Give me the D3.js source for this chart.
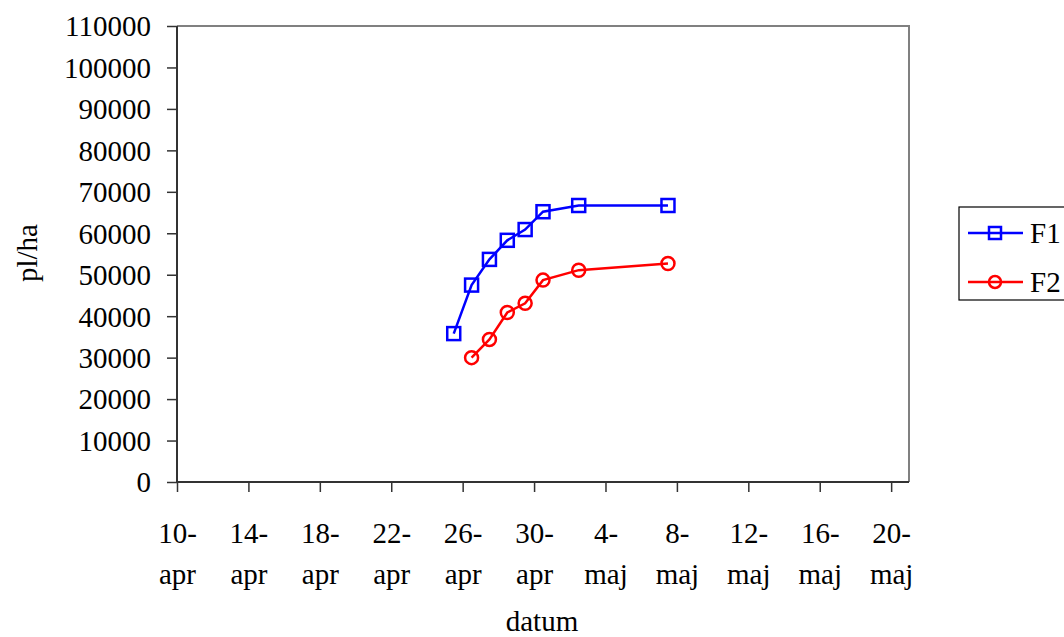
<!DOCTYPE html>
<html><head><meta charset="utf-8">
<script src="https://cdn.jsdelivr.net/npm/d3@7/dist/d3.min.js"></script>
<style>body{margin:0;background:#fff;} svg{display:block;} text{font-family:"Liberation Serif","Times New Roman",serif;fill:#000;}</style>
</head><body>
<svg id="c" width="1064" height="637"></svg>
<script>
const f1Dates = ["2024-04-25","2024-04-26","2024-04-27","2024-04-28","2024-04-29","2024-04-30","2024-05-02","2024-05-07"];
const f1Values = [35800, 47500, 53700, 58300, 60900, 65200, 66700, 66700];
const f2Dates = ["2024-04-26","2024-04-27","2024-04-28","2024-04-29","2024-04-30","2024-05-02","2024-05-07"];
const f2Values = [30000, 34400, 40900, 43100, 48700, 51100, 52700];
const seriesNames = ["F1","F2"];
const xTickDates = ["2024-04-10","2024-04-14","2024-04-18","2024-04-22","2024-04-26","2024-04-30","2024-05-04","2024-05-08","2024-05-12","2024-05-16","2024-05-20"];
const xTickLabels = [["10-","apr"],["14-","apr"],["18-","apr"],["22-","apr"],["26-","apr"],["30-","apr"],["4-","maj"],["8-","maj"],["12-","maj"],["16-","maj"],["20-","maj"]];
const yTicks = [0,10000,20000,30000,40000,50000,60000,70000,80000,90000,100000,110000];

const FS = 29;
const parse = d3.utcParse("%Y-%m-%d");
const svg = d3.select("#c");
const L = 177, R = 909, T = 26, B = 482;
const x = d3.scaleUtc().domain([parse("2024-04-10"), parse("2024-05-21")]).range([L, R]);
const y = d3.scaleLinear().domain([0, 110000]).range([B, T]);
const half = 12*3600*1000;
const px = d => x(new Date(parse(d).getTime() + half));

// plot frame (top & right gray)
svg.append("path").attr("d", `M${L},${T}H${R}V${B}`).attr("fill","none").attr("stroke","#808080").attr("stroke-width",2);

// y axis
const ya = svg.append("g").attr("transform",`translate(${L},0)`)
  .call(d3.axisLeft(y).tickValues(yTicks).tickSize(10).tickPadding(16).tickFormat(d3.format("d")));
ya.select(".domain").attr("stroke","#333").attr("stroke-width",2).attr("d",`M0,${T}V${B}`);
ya.selectAll(".tick line").attr("stroke","#333").attr("stroke-width",1.5);
ya.selectAll(".tick text").attr("font-size",FS).attr("dy","0.34em");

// x axis
const xa = svg.append("g").attr("transform",`translate(0,${B})`)
  .call(d3.axisBottom(x).tickValues(xTickDates.map(parse)).tickSize(10).tickFormat(""));
xa.select(".domain").attr("stroke","#333").attr("stroke-width",2).attr("d",`M${L},0H${R}`);
xa.selectAll(".tick line").attr("stroke","#333").attr("stroke-width",1.5);
xa.selectAll(".tick").each(function(d,i){
  const t = d3.select(this).append("text").attr("text-anchor","middle").attr("font-size",FS);
  t.append("tspan").attr("x",0).attr("y",61).text(xTickLabels[i][0]);
  t.append("tspan").attr("x",0).attr("y",102).text(xTickLabels[i][1]);
});

// axis titles
svg.append("text").attr("x",542).attr("y",631).attr("text-anchor","middle").attr("font-size",FS).text("datum");
svg.append("text").attr("transform","translate(37,253) rotate(-90)").attr("text-anchor","middle").attr("font-size",FS).text("pl/ha");

const line = d3.line().x(d=>px(d.d)).y(d=>y(d.v));
const s1 = f1Dates.map((d,i)=>({d, v:f1Values[i]}));
const s2 = f2Dates.map((d,i)=>({d, v:f2Values[i]}));

svg.append("path").datum(s1).attr("d",line).attr("fill","none").attr("stroke","#0000ff").attr("stroke-width",2.5);
svg.selectAll(".sq").data(s1).enter().append("rect")
  .attr("x",d=>px(d.d)-6.5).attr("y",d=>y(d.v)-6.5).attr("width",13).attr("height",13)
  .attr("fill","none").attr("stroke","#0000ff").attr("stroke-width",2.5);

svg.append("path").datum(s2).attr("d",line).attr("fill","none").attr("stroke","#ff0000").attr("stroke-width",2.5);
svg.selectAll(".ci").data(s2).enter().append("circle")
  .attr("cx",d=>px(d.d)).attr("cy",d=>y(d.v)).attr("r",6.5)
  .attr("fill","none").attr("stroke","#ff0000").attr("stroke-width",2.5);

// legend
const lg = svg.append("g");
lg.append("rect").attr("x",959).attr("y",207).attr("width",110).attr("height",93).attr("fill","#fff").attr("stroke","#000").attr("stroke-width",1.2);
const colors = ["#0000ff","#ff0000"];
seriesNames.forEach((n,i)=>{
  const yy = 233 + i*49;
  lg.append("line").attr("x1",968).attr("x2",1023).attr("y1",yy).attr("y2",yy).attr("stroke",colors[i]).attr("stroke-width",2.5);
  if(i===0) lg.append("rect").attr("x",995-6).attr("y",yy-6).attr("width",12).attr("height",12).attr("fill","none").attr("stroke",colors[i]).attr("stroke-width",2.5);
  else lg.append("circle").attr("cx",995).attr("cy",yy).attr("r",6).attr("fill","none").attr("stroke",colors[i]).attr("stroke-width",2.5);
  lg.append("text").attr("x",1030).attr("y",yy+10).attr("font-size",FS).text(n);
});
</script>
</body></html>
